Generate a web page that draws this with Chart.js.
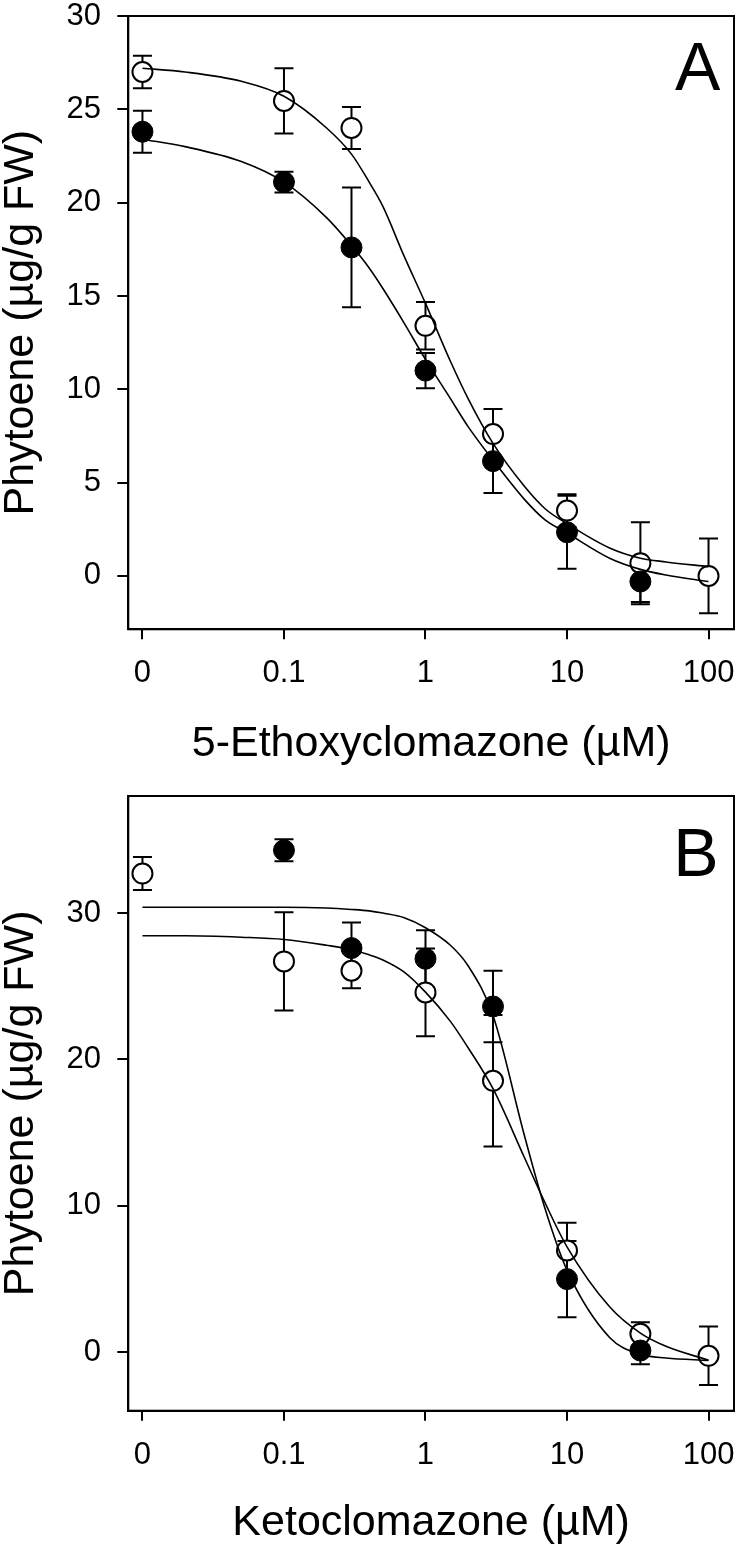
<!DOCTYPE html>
<html>
<head>
<meta charset="utf-8">
<script src="https://cdn.jsdelivr.net/npm/chart.js@4.4.0/dist/chart.umd.min.js"></script>
<style>
  html, body { margin: 0; padding: 0; background: #fff; }
  .painel { position: absolute; left: 0; width: 746px; height: 777px; }
  #painelA { top: 0; }
  #painelB { top: 777px; }
</style>
</head>
<body>
<div class="painel" id="painelA"><canvas id="graficoA" width="746" height="777"></canvas></div>
<div class="painel" id="painelB"><canvas id="graficoB" width="746" height="777"></canvas></div>
<script>
// Eixo x logarítmico com quebra: a dose 0 é desenhada na posição 0.01
const POS_ZERO = 0.01;
const ticksX = [0.01, 0.1, 1, 10, 100];
const rotulosX = ['0', '0.1', '1', '10', '100'];

// ---- Painel A: 5-Ethoxyclomazone ----
const doseAbertoA = [0, 0.1, 0.3, 1, 3, 10, 33, 100];
const abertoA = [27.0, 25.45, 24.0, 13.4, 7.6, 3.5, 0.68, 0.0];
const erroAbertoA = [0.87, 1.75, 1.13, 1.27, 1.34, 0.88, 2.2, 2.0];
const dosePreenchidoA = [0, 0.1, 0.3, 1, 3, 10, 33];
const preenchidoA = [23.8, 21.1, 17.6, 11.0, 6.15, 2.34, -0.3];
const erroPreenchidoA = [1.13, 0.56, 3.21, 0.95, 1.71, 1.95, 1.1];
const ticksYA = [0, 5, 10, 15, 20, 25, 30];

// ---- Painel B: Ketoclomazone ----
const doseAbertoB = [0, 0.1, 0.3, 1, 3, 10, 33, 100];
const abertoB = [32.7, 26.7, 26.06, 24.58, 18.54, 6.95, 1.25, -0.25];
const erroAbertoB = [1.13, 3.36, 1.2, 3.0, 4.49, 1.9, 0.8, 2.0];
const dosePreenchidoB = [0.1, 0.3, 1, 3, 10, 33];
const preenchidoB = [34.29, 27.61, 26.88, 23.62, 4.99, 0.11];
const erroPreenchidoB = [0.75, 1.75, 1.94, 2.44, 2.6, 0.93];
const ticksYB = [0, 10, 20, 30];

// curvas ajustadas
const curvaX = [0.01, 0.02, 0.05, 0.1, 0.2, 0.3, 0.4, 0.5, 0.7, 1, 1.5, 2, 3, 5, 7, 10, 20, 33, 50, 100];
const curvaAbertoA = [27.2, 27.0, 26.5, 25.7, 24.0, 22.6, 21.1, 19.8, 17.2, 14.6, 11.5, 9.5, 7.1, 4.8, 3.6, 2.8, 1.5, 0.95, 0.75, 0.5];
const curvaPreenchidoA = [23.4, 23.0, 22.2, 21.1, 19.2, 17.7, 16.5, 15.4, 13.6, 11.6, 9.5, 8.0, 6.2, 4.1, 3.0, 2.3, 0.95, 0.35, 0.05, -0.3];
const curvaAbertoB = [28.45, 28.45, 28.35, 28.2, 27.8, 27.5, 27.15, 26.8, 26.0, 24.6, 22.6, 20.8, 18.0, 13.3, 10.2, 7.2, 3.1, 1.3, 0.4, -0.55];
const curvaPreenchidoB = [30.4, 30.4, 30.4, 30.4, 30.35, 30.25, 30.15, 30.0, 29.7, 29.0, 27.8, 26.4, 23.0, 14.8, 9.8, 5.6, 1.0, -0.15, -0.4, -0.57];

const FONTE = '"Liberation Sans", Arial, sans-serif';

function pontos(doses, valores) {
    return doses.map((d, i) => ({ x: d === 0 ? POS_ZERO : d, y: valores[i] }));
}

// Barras de erro desenhadas com as escalas do próprio Chart.js
const barrasErro = {
    id: 'barrasErro',
    beforeDatasetsDraw(chart) {
        const ctx = chart.ctx;
        const sx = chart.scales.x, sy = chart.scales.y;
        ctx.save();
        ctx.strokeStyle = '#000';
        ctx.lineWidth = 2;
        chart.data.datasets.forEach(ds => {
            if (!ds.erros) return;
            ds.data.forEach((p, i) => {
                const e = ds.erros[i];
                const px = sx.getPixelForValue(p.x);
                const y1 = sy.getPixelForValue(p.y + e);
                const y2 = sy.getPixelForValue(p.y - e);
                ctx.beginPath();
                ctx.moveTo(px, y1); ctx.lineTo(px, y2);
                ctx.moveTo(px - 9.5, y1); ctx.lineTo(px + 9.5, y1);
                ctx.moveTo(px - 9.5, y2); ctx.lineTo(px + 9.5, y2);
                ctx.stroke();
            });
        });
        ctx.restore();
    }
};

// Moldura fechada e letra do painel
const moldura = {
    id: 'moldura',
    afterDraw(chart, args, opts) {
        const ctx = chart.ctx;
        const a = chart.chartArea;
        ctx.save();
        ctx.strokeStyle = '#000';
        ctx.lineWidth = 2;
        ctx.strokeRect(a.left, a.top, a.right - a.left, a.bottom - a.top);
        ctx.fillStyle = '#000';
        ctx.font = '68px ' + FONTE;
        ctx.textAlign = 'left';
        ctx.textBaseline = 'alphabetic';
        ctx.fillText(opts.letra, a.right - opts.dx, a.top + opts.dy);
        ctx.restore();
    }
};

function criarPainel(id, cfg) {
    const ctx = document.getElementById(id).getContext('2d');
    return new Chart(ctx, {
        type: 'scatter',
        data: {
            datasets: [
                {
                    data: pontos(cfg.doseAberto, cfg.aberto),
                    erros: cfg.erroAberto,
                    pointRadius: 10, pointHoverRadius: 10,
                    backgroundColor: '#fff', borderColor: '#000', borderWidth: 2,
                    order: 3
                },
                {
                    data: pontos(cfg.dosePreenchido, cfg.preenchido),
                    erros: cfg.erroPreenchido,
                    pointRadius: 10.5, pointHoverRadius: 10.5,
                    backgroundColor: '#000', borderColor: '#000', borderWidth: 1,
                    order: 2
                },
                {
                    data: pontos(curvaX, cfg.curvaAberto),
                    showLine: true, pointRadius: 0, borderColor: '#000', borderWidth: 1.6,
                    cubicInterpolationMode: 'monotone', order: 1
                },
                {
                    data: pontos(curvaX, cfg.curvaPreenchido),
                    showLine: true, pointRadius: 0, borderColor: '#000', borderWidth: 1.6,
                    cubicInterpolationMode: 'monotone', order: 0
                }
            ]
        },
        options: {
            responsive: false,
            animation: false,
            events: [],
            layout: { padding: { top: cfg.topo, right: 4.3, left: 0, bottom: 0 } },
            plugins: {
                legend: { display: false },
                tooltip: { enabled: false },
                moldura: { letra: cfg.letra, dx: cfg.letraDx, dy: cfg.letraDy }
            },
            scales: {
                x: {
                    type: 'logarithmic',
                    min: Math.pow(10, -2.1),
                    max: Math.pow(10, 2.18),
                    afterBuildTicks: s => { s.ticks = ticksX.map(v => ({ value: v })); },
                    afterFit: s => { s.height = cfg.alturaX; s.paddingLeft = 0; s.paddingRight = 0; },
                    ticks: {
                        callback: (v, i) => rotulosX[i],
                        font: { family: FONTE, size: 31 },
                        color: '#000', padding: 16, maxRotation: 0, autoSkip: false
                    },
                    grid: { drawOnChartArea: false, drawTicks: true, tickLength: 10, lineWidth: 2, color: '#000' },
                    border: { display: true, color: '#000', width: 2 },
                    title: {
                        display: true, text: cfg.tituloX, color: '#000',
                        font: { family: FONTE, size: 43, lineHeight: 1 },
                        padding: { top: 0, bottom: cfg.tituloXpad }
                    }
                },
                y: {
                    type: 'linear',
                    min: cfg.yMin, max: cfg.yMax,
                    afterBuildTicks: s => { s.ticks = cfg.ticksY.map(v => ({ value: v })); },
                    afterFit: s => { s.width = 128.3; s.paddingTop = 0; s.paddingBottom = 0; },
                    ticks: {
                        font: { family: FONTE, size: 31 },
                        color: '#000', padding: 16.3
                    },
                    grid: { drawOnChartArea: false, drawTicks: true, tickLength: 11, lineWidth: 2, color: '#000' },
                    border: { display: true, color: '#000', width: 2 },
                    title: {
                        display: true, text: 'Phytoene (\u00b5g/g FW)', color: '#000',
                        font: { family: FONTE, size: 43, lineHeight: 1 },
                        padding: { top: 0, bottom: 0 }
                    }
                }
            }
        },
        plugins: [barrasErro, moldura]
    });
}

const graficoA = criarPainel('graficoA', {
    doseAberto: doseAbertoA, aberto: abertoA, erroAberto: erroAbertoA,
    dosePreenchido: dosePreenchidoA, preenchido: preenchidoA, erroPreenchido: erroPreenchidoA,
    curvaAberto: curvaAbertoA, curvaPreenchido: curvaPreenchidoA,
    ticksY: ticksYA, yMin: -2.86, yMax: 30,
    topo: 16, alturaX: 147.7, tituloXpad: 11.5,
    tituloX: '5-Ethoxyclomazone (\u00b5M)',
    letra: 'A', letraDx: 59, letraDy: 74
});

const graficoB = criarPainel('graficoB', {
    doseAberto: doseAbertoB, aberto: abertoB, erroAberto: erroAbertoB,
    dosePreenchido: dosePreenchidoB, preenchido: preenchidoB, erroPreenchido: erroPreenchidoB,
    curvaAberto: curvaAbertoB, curvaPreenchido: curvaPreenchidoB,
    ticksY: ticksYB, yMin: -4, yMax: 38,
    topo: 19, alturaX: 143.3, tituloXpad: 9.5,
    tituloX: 'Ketoclomazone (\u00b5M)',
    letra: 'B', letraDx: 60.7, letraDy: 80
});
</script>
</body>
</html>
